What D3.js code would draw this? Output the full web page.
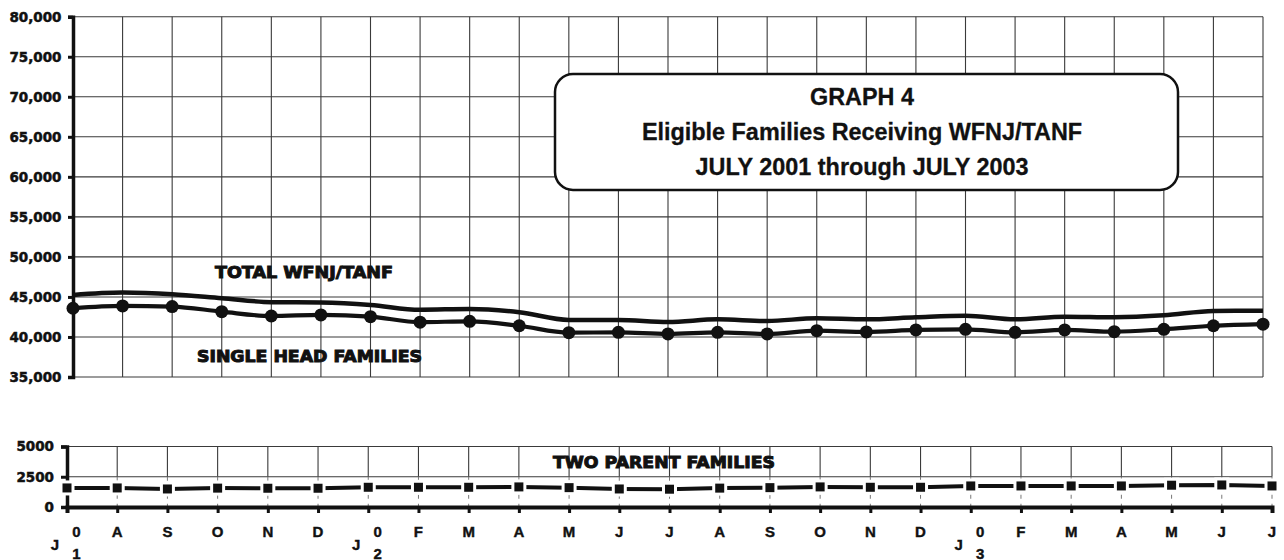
<!DOCTYPE html>
<html>
<head>
<meta charset="utf-8">
<script src="https://cdn.jsdelivr.net/npm/d3@7"></script>
<style>
  html, body { margin: 0; padding: 0; background: #fff; }
  svg { display: block; }
</style>
</head>
<body>
<svg id="chart" width="1284" height="560"></svg>
<script>
// ---- data ----
const monthLabels = ["J01","A","S","O","N","D","J02","F","M","A","M","J","J","A","S","O","N","D","J03","F","M","A","M","J","J"];
const totalFamilies = [45250, 45540, 45340, 44840, 44350, 44300, 44000, 43400, 43500, 43090, 42125, 42125, 41875, 42200, 42000, 42330, 42200, 42460, 42660, 42200, 42540, 42460, 42700, 43250, 43290];
const singleHead = [43590, 43880, 43800, 43160, 42620, 42750, 42540, 41850, 41950, 41400, 40540, 40580, 40375, 40580, 40375, 40790, 40625, 40875, 40960, 40580, 40875, 40660, 40960, 41400, 41600];
const twoParent = [1575, 1575, 1490, 1560, 1550, 1550, 1630, 1630, 1630, 1660, 1600, 1490, 1470, 1560, 1600, 1660, 1630, 1630, 1740, 1740, 1740, 1740, 1800, 1820, 1740];
const topTicks = [35000, 40000, 45000, 50000, 55000, 60000, 65000, 70000, 75000, 80000];
const bottomTicks = [0, 2500, 5000];
const titleLines = ["GRAPH 4", "Eligible Families Receiving WFNJ/TANF", "JULY 2001 through JULY  2003"];

const svg = d3.select("#chart");
const idx = d3.range(monthLabels.length);
const INK = "#111";
const GRID = "#3a3a3a";
const SANS = "'Liberation Sans', Arial, sans-serif";
const WIDE = "'DejaVu Sans', 'Liberation Sans', sans-serif";

// ---- scales ----
const xT = d3.scaleLinear().domain([0, monthLabels.length - 1]).range([73, 1263]);
const yT = d3.scaleLinear().domain([35000, 80000]).range([377, 16.7]);
const xB = d3.scaleLinear().domain([0, monthLabels.length - 1]).range([67, 1272]);
const yB = d3.scaleLinear().domain([0, 5000]).range([507, 446.5]);

function heavy(sel, fam, size, sw) {
  sel.style("font-family", fam).style("font-weight", "bold").style("font-size", size + "px")
    .attr("fill", INK).attr("stroke", INK).attr("stroke-width", sw).attr("paint-order", "stroke");
  return sel;
}

// ================= TOP PANEL =================
const topG = svg.append("g");
topG.append("g").selectAll("line").data(topTicks).join("line")
  .attr("x1", xT(0)).attr("x2", xT(monthLabels.length - 1))
  .attr("y1", d => yT(d)).attr("y2", d => yT(d))
  .attr("stroke", GRID).attr("stroke-width", 1.1);
topG.append("g").selectAll("line").data(idx.slice(1)).join("line")
  .attr("x1", d => xT(d)).attr("x2", d => xT(d))
  .attr("y1", yT(80000)).attr("y2", yT(35000))
  .attr("stroke", GRID).attr("stroke-width", 1.1);

const yAxisT = d3.axisLeft(yT).tickValues(topTicks).tickSize(5).tickPadding(6)
  .tickFormat(d3.format(","));
const gyT = topG.append("g").attr("transform", `translate(${xT(0)},0)`).call(yAxisT);
gyT.select(".domain").attr("stroke", INK).attr("stroke-width", 3.5);
gyT.selectAll(".tick line").attr("stroke", INK).attr("stroke-width", 3);
heavy(gyT.selectAll(".tick text"), WIDE, 13.5, 0.5).attr("dx", "-0.5");

// title box
const box = topG.append("g");
box.append("rect").attr("x", 555).attr("y", 74).attr("width", 623).attr("height", 116)
  .attr("rx", 18).attr("ry", 18).attr("fill", "#fff").attr("stroke", INK).attr("stroke-width", 2.5);
heavy(box.selectAll("text").data(titleLines).join("text")
  .attr("x", 862).attr("y", (d, i) => 105 + i * 35)
  .attr("text-anchor", "middle")
  .text(d => d), SANS, 23.4, 0.3);

// lines
const lineT = d3.line().x((d, i) => xT(i)).y(d => yT(d)).curve(d3.curveMonotoneX);
topG.append("path").datum(totalFamilies).attr("d", lineT)
  .attr("fill", "none").attr("stroke", INK).attr("stroke-width", 4.5);
topG.append("path").datum(singleHead).attr("d", lineT)
  .attr("fill", "none").attr("stroke", INK).attr("stroke-width", 4.2);
topG.append("g").selectAll("circle").data(singleHead).join("circle")
  .attr("cx", (d, i) => xT(i)).attr("cy", d => yT(d)).attr("r", 6.5).attr("fill", INK);

// annotations
heavy(topG.append("text").attr("x", 215).attr("y", 278)
  .attr("textLength", 178).attr("lengthAdjust", "spacingAndGlyphs").text("TOTAL WFNJ/TANF"), WIDE, 16, 1);
heavy(topG.append("text").attr("x", 197).attr("y", 362)
  .attr("textLength", 225).attr("lengthAdjust", "spacingAndGlyphs").text("SINGLE HEAD FAMILIES"), WIDE, 16, 1);

// ================= BOTTOM PANEL =================
const botG = svg.append("g");
botG.append("g").selectAll("line").data([2500, 5000]).join("line")
  .attr("x1", xB(0)).attr("x2", xB(monthLabels.length - 1))
  .attr("y1", d => yB(d)).attr("y2", d => yB(d))
  .attr("stroke", GRID).attr("stroke-width", 1.1);
botG.append("g").selectAll("line").data(idx.slice(1)).join("line")
  .attr("x1", d => xB(d)).attr("x2", d => xB(d))
  .attr("y1", yB(5000)).attr("y2", yB(2500))
  .attr("stroke", GRID).attr("stroke-width", 1.1);
botG.append("g").selectAll("line").data(idx.slice(1)).join("line")
  .attr("x1", d => xB(d)).attr("x2", d => xB(d))
  .attr("y1", yB(2500)).attr("y2", yB(0))
  .attr("stroke", "#777").attr("stroke-width", 1).attr("stroke-dasharray", "4,5");

const yAxisB = d3.axisLeft(yB).tickValues(bottomTicks).tickSize(6).tickPadding(6)
  .tickFormat(d3.format("d"));
const gyB = botG.append("g").attr("transform", `translate(${xB(0)},0)`).call(yAxisB);
gyB.select(".domain").attr("stroke", INK).attr("stroke-width", 3.5);
gyB.selectAll(".tick line").attr("stroke", INK).attr("stroke-width", 3);
heavy(gyB.selectAll(".tick text"), WIDE, 13.5, 0.5).attr("dx", "-1");

const xAxisB = d3.axisBottom(xB).tickValues(idx).tickSize(6).tickFormat("");
const gxB = botG.append("g").attr("transform", `translate(0,${yB(0)})`).call(xAxisB);
gxB.select(".domain").attr("stroke", INK).attr("stroke-width", 4);
gxB.selectAll(".tick line").attr("stroke", INK).attr("stroke-width", 3);

const lab = botG.append("g");
idx.forEach(i => {
  const s = monthLabels[i], x = xB(i);
  if (s.length === 3) {
    lab.append("text").attr("x", x - 12).attr("y", 550).attr("text-anchor", "middle").text(s[0]);
    lab.append("text").attr("x", x + 9.5).attr("y", 537).attr("text-anchor", "middle").text(s[1]);
    lab.append("text").attr("x", x + 9.5).attr("y", 558.5).attr("text-anchor", "middle").text(s[2]);
  } else {
    lab.append("text").attr("x", x).attr("y", 537).attr("text-anchor", "middle").text(s);
  }
});
heavy(lab.selectAll("text"), SANS, 15, 0.4);

const lineB = d3.line().x((d, i) => xB(i)).y(d => yB(d));
botG.append("path").datum(twoParent).attr("d", lineB)
  .attr("fill", "none").attr("stroke", INK).attr("stroke-width", 4);
botG.append("g").selectAll("rect").data(twoParent).join("rect")
  .attr("x", (d, i) => xB(i) - 6).attr("y", d => yB(d) - 6)
  .attr("width", 12).attr("height", 12)
  .attr("fill", INK).attr("stroke", "#fff").attr("stroke-width", 3);

heavy(botG.append("text").attr("x", 553).attr("y", 468)
  .attr("textLength", 222).attr("lengthAdjust", "spacingAndGlyphs").text("TWO PARENT FAMILIES"), WIDE, 16, 1);
</script>
</body>
</html>
